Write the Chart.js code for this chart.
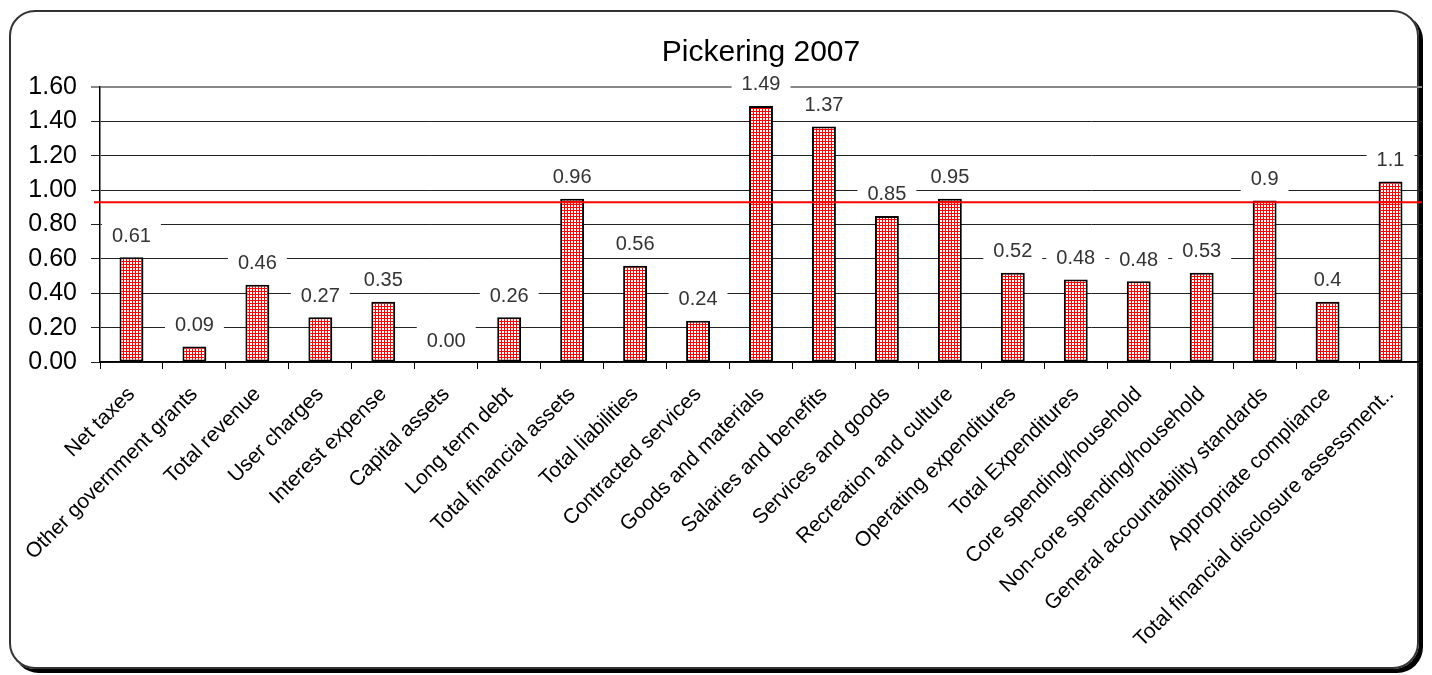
<!DOCTYPE html>
<html>
<head>
<meta charset="utf-8">
<title>Pickering 2007</title>
<script src="https://cdn.jsdelivr.net/npm/chart.js@4/dist/chart.umd.min.js"></script>
<style>
  html, body { margin: 0; padding: 0; background: #fff; }
  #wrap { position: relative; width: 1432px; height: 675px; }
  #frame {
    position: absolute; left: 9px; top: 10px;
    width: 1406px; height: 655px;
    border: 2px solid #333; border-radius: 26px;
    box-shadow: 4px 4px 0 #000;
  }
  #pickeringChart { position: absolute; left: 0; top: 0; }
</style>
</head>
<body>
<div id="wrap">
  <div id="frame"></div>
  <canvas id="pickeringChart" width="1432" height="675"></canvas>
</div>
<script>
const titleText = 'Pickering 2007';

const categories = [
  'Net taxes', 'Other government grants', 'Total revenue', 'User charges',
  'Interest expense', 'Capital assets', 'Long term debt', 'Total financial assets',
  'Total liabilities', 'Contracted services', 'Goods and materials',
  'Salaries and benefits', 'Services and goods', 'Recreation and culture',
  'Operating expenditures', 'Total Expenditures', 'Core spending/household',
  'Non-core spending/household', 'General accountability standards',
  'Appropriate compliance', 'Total financial disclosure assessment..'
];

// bar heights
const values = [
  0.61, 0.09, 0.45, 0.26, 0.35, 0.00, 0.26, 0.95, 0.56, 0.24, 1.49,
  1.37, 0.85, 0.95, 0.52, 0.48, 0.47, 0.52, 0.94, 0.35, 1.05
];

// the printed labels (rounded differently from the bars in places)
const valueLabels = [
  '0.61', '0.09', '0.46', '0.27', '0.35', '0.00', '0.26', '0.96', '0.56', '0.24', '1.49',
  '1.37', '0.85', '0.95', '0.52', '0.48', '0.48', '0.53', '0.9', '0.4', '1.1'
];

const benchmark = 0.93;

const yTicks = [0, 0.2, 0.4, 0.6, 0.8, 1.0, 1.2, 1.4, 1.6];

const FONT = '"Liberation Sans", Arial, sans-serif';

const canvas = document.getElementById('pickeringChart');

function makeGridPattern() {
  const tile = document.createElement('canvas');
  tile.width = 3;
  tile.height = 3;
  const t = tile.getContext('2d');
  t.fillStyle = '#fff';
  t.fillRect(0, 0, 3, 3);
  t.fillStyle = '#ff0000';
  t.fillRect(0, 0, 3, 1);
  t.fillRect(0, 0, 1, 3);
  return canvas.getContext('2d').createPattern(tile, 'repeat');
}

// value labels sit in white boxes that hide the gridlines behind them
const labelBoxes = {
  id: 'labelBoxes',
  beforeDatasetsDraw(chart) {
    const ctx = chart.ctx;
    const meta = chart.getDatasetMeta(0);
    ctx.save();
    ctx.font = '20px ' + FONT;
    ctx.textAlign = 'center';
    ctx.textBaseline = 'middle';
    meta.data.forEach((bar, i) => {
      const text = valueLabels[i];
      const w = ctx.measureText(text).width + 20;
      const cy = bar.y - 22;
      ctx.fillStyle = '#fff';
      ctx.fillRect(bar.x - w / 2, cy - 13, w, 26);
      ctx.fillStyle = '#333';
      ctx.fillText(text, bar.x, cy + 1);
    });
    ctx.restore();
  }
};

const benchmarkLine = {
  id: 'benchmarkLine',
  afterDatasetsDraw(chart) {
    const { ctx, chartArea, scales } = chart;
    const y = scales.y.getPixelForValue(benchmark);
    ctx.save();
    ctx.strokeStyle = '#ff0000';
    ctx.lineWidth = 2;
    ctx.beginPath();
    ctx.moveTo(chartArea.left - 6, y);
    ctx.lineTo(chartArea.right, y);
    ctx.stroke();
    ctx.restore();
  }
};

const plotTitle = {
  id: 'plotTitle',
  afterDraw(chart) {
    const { ctx, chartArea } = chart;
    ctx.save();
    ctx.font = '30px ' + FONT;
    ctx.fillStyle = '#000';
    ctx.textAlign = 'center';
    ctx.textBaseline = 'alphabetic';
    ctx.fillText(titleText, (chartArea.left + chartArea.right) / 2, 61);
    ctx.restore();
  }
};

new Chart(canvas, {
  type: 'bar',
  data: {
    labels: categories,
    datasets: [{
      data: values,
      backgroundColor: makeGridPattern(),
      borderColor: '#000',
      borderWidth: 2,
      borderSkipped: false,
      categoryPercentage: 1,
      barPercentage: 0.38
    }]
  },
  options: {
    responsive: false,
    animation: false,
    layout: { padding: { left: 10, right: 10, top: 87, bottom: 0 } },
    plugins: {
      legend: { display: false },
      tooltip: { enabled: false }
    },
    scales: {
      x: {
        offset: true,
        grid: { display: true, drawOnChartArea: false, drawTicks: true, tickLength: 7, offset: true, color: '#000' },
        border: { display: true, color: '#000', width: 1.5 },
        ticks: {
          autoSkip: false, minRotation: 45, maxRotation: 45, padding: 13,
          color: '#000', font: { family: FONT, size: 21 }
        },
        afterFit(scale) { scale.height = 313; }
      },
      y: {
        min: 0,
        max: 1.6,
        afterBuildTicks(scale) { scale.ticks = yTicks.map(v => ({ value: v })); },
        ticks: {
          callback: v => v.toFixed(2), padding: 14,
          color: '#000', font: { family: FONT, size: 25 }
        },
        grid: {
          color: c => (c.tick && Math.abs(c.tick.value - 1.6) < 1e-6) ? '#888' : '#222',
          lineWidth: c => (c.tick && Math.abs(c.tick.value - 1.6) < 1e-6) ? 2 : 1,
          tickLength: 9
        },
        border: { display: true, color: '#000', width: 1.5 },
        afterFit(scale) { scale.width = 90; }
      }
    }
  },
  plugins: [labelBoxes, benchmarkLine, plotTitle]
});
</script>
</body>
</html>
